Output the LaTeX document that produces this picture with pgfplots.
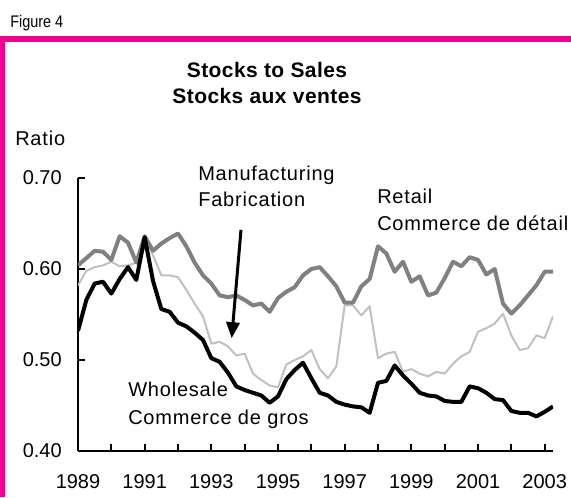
\documentclass[border=0pt]{standalone}
\usepackage{pgfplots}
\pgfplotsset{compat=1.18}
\usepackage{pgfplotstable}
\usetikzlibrary{arrows.meta}
\usepackage{fontspec}
\setmainfont{Liberation Sans}
\newfontfamily\ann{Liberation Sans}[LetterSpace=4]
\newfontfamily\titlef{Liberation Sans}[LetterSpace=2]
\definecolor{frame}{RGB}{236,0,140}
\definecolor{retail}{RGB}{128,128,128}
\definecolor{manuf}{RGB}{192,192,192}

% quarterly stocks-to-sales ratios: wholesale, retail, manufacturing
\pgfplotstableread{
t w r m
1989.00 0.532 0.604 0.582
1989.25 0.566 0.612 0.598
1989.50 0.584 0.620 0.602
1989.75 0.586 0.619 0.604
1990.00 0.573 0.610 0.608
1990.25 0.589 0.636 0.603
1990.50 0.602 0.629 0.604
1990.75 0.588 0.607 0.607
1991.00 0.635 0.636 0.636
1991.25 0.587 0.620 0.615
1991.50 0.556 0.628 0.593
1991.75 0.553 0.634 0.593
1992.00 0.541 0.639 0.591
1992.25 0.537 0.625 0.577
1992.50 0.530 0.607 0.562
1992.75 0.522 0.593 0.548
1993.00 0.502 0.584 0.518
1993.25 0.498 0.571 0.520
1993.50 0.486 0.569 0.515
1993.75 0.471 0.571 0.505
1994.00 0.467 0.566 0.507
1994.25 0.464 0.560 0.485
1994.50 0.461 0.562 0.478
1994.75 0.453 0.553 0.472
1995.00 0.460 0.568 0.470
1995.25 0.479 0.575 0.495
1995.50 0.489 0.580 0.500
1995.75 0.497 0.593 0.504
1996.00 0.480 0.600 0.511
1996.25 0.464 0.602 0.490
1996.50 0.461 0.592 0.480
1996.75 0.454 0.581 0.493
1997.00 0.451 0.563 0.560
1997.25 0.449 0.563 0.560
1997.50 0.448 0.581 0.549
1997.75 0.442 0.589 0.559
1998.00 0.475 0.625 0.502
1998.25 0.477 0.617 0.507
1998.50 0.494 0.597 0.509
1998.75 0.483 0.608 0.487
1999.00 0.474 0.586 0.490
1999.25 0.464 0.592 0.485
1999.50 0.461 0.571 0.482
1999.75 0.460 0.574 0.487
2000.00 0.455 0.590 0.485
2000.25 0.454 0.608 0.496
2000.50 0.454 0.603 0.504
2000.75 0.471 0.613 0.509
2001.00 0.469 0.610 0.531
2001.25 0.464 0.594 0.535
2001.50 0.457 0.600 0.540
2001.75 0.456 0.562 0.551
2002.00 0.444 0.551 0.527
2002.25 0.442 0.560 0.511
2002.50 0.442 0.571 0.513
2002.75 0.438 0.582 0.527
2003.00 0.443 0.597 0.524
2003.25 0.449 0.597 0.548
}\stocks

\begin{document}
\begin{tikzpicture}
% frame, titles and notes, in pixel units (y down)
\begin{scope}[x=0.75pt,y=-0.75pt]
\path[use as bounding box] (0,0) rectangle (571,497);
\fill[frame] (0,36) rectangle (571,41.5);
\fill[frame] (0,36) rectangle (5,497);
\node[anchor=base west, inner sep=0pt, font=\fontsize{12.6}{14}\selectfont] at (10,27) {\scalebox{0.86}[1]{Figure 4}};
\node[anchor=base, inner sep=0pt, font=\titlef\bfseries\fontsize{15.75}{18}\selectfont] at (267,77) {Stocks to Sales};
\node[anchor=base, inner sep=0pt, font=\titlef\bfseries\fontsize{15.75}{18}\selectfont] at (267,103) {Stocks aux ventes};
\begin{scope}[every node/.style={anchor=base west, inner sep=0pt, font=\ann\fontsize{15}{18}\selectfont}]
\node at (15,145) {Ratio};
\node at (198,180) {Manufacturing};
\node at (198,206.7) {Fabrication};
\node at (377,203.3) {Retail};
\node at (377,230) {Commerce de détail};
\node at (128,396.7) {Wholesale};
\node at (128,424) {Commerce de gros};
\end{scope}
\end{scope}

\begin{axis}[
    at={(58.5pt,-338.25pt)}, anchor=south west,
    scale only axis, width=356.25pt, height=204.75pt,
    xmin=1989, xmax=2003.25, ymin=0.4, ymax=0.7,
    axis lines=left,
    axis line style={-, line width=2pt},
    xtick={1989,1991,...,2003},
    minor xtick={1990,1992,...,2002},
    ytick={0.4,0.5,0.6,0.7},
    tick align=inside,
    major tick length=5.25pt, minor tick length=5.25pt,
    every tick/.style={black, line width=1.5pt},
    every minor tick/.style={black, line width=1.5pt},
    tick label style={font=\fontsize{15}{18}\selectfont},
    /pgf/number format/assume math mode=true,
    xticklabel style={/pgf/number format/1000 sep={}, inner sep=0pt, yshift=-17.75pt},
    yticklabel style={/pgf/number format/fixed, /pgf/number format/fixed zerofill,
      /pgf/number format/precision=2, inner sep=0pt, xshift=-12pt},
    no markers,
    every axis plot/.append style={line join=round},
  ]
  \addplot[manuf, line width=1.5pt] table[x=t, y=m] {\stocks};
  \addplot[retail, line width=3pt] table[x=t, y=r] {\stocks};
  \addplot[black, line width=3pt] table[x=t, y=w] {\stocks};
  \draw[black, line width=2.25pt, -{Triangle[length=12pt, width=10pt]}]
    (axis cs:1993.89,0.643) -- (axis cs:1993.61,0.524);
\end{axis}
\end{tikzpicture}
\end{document}
